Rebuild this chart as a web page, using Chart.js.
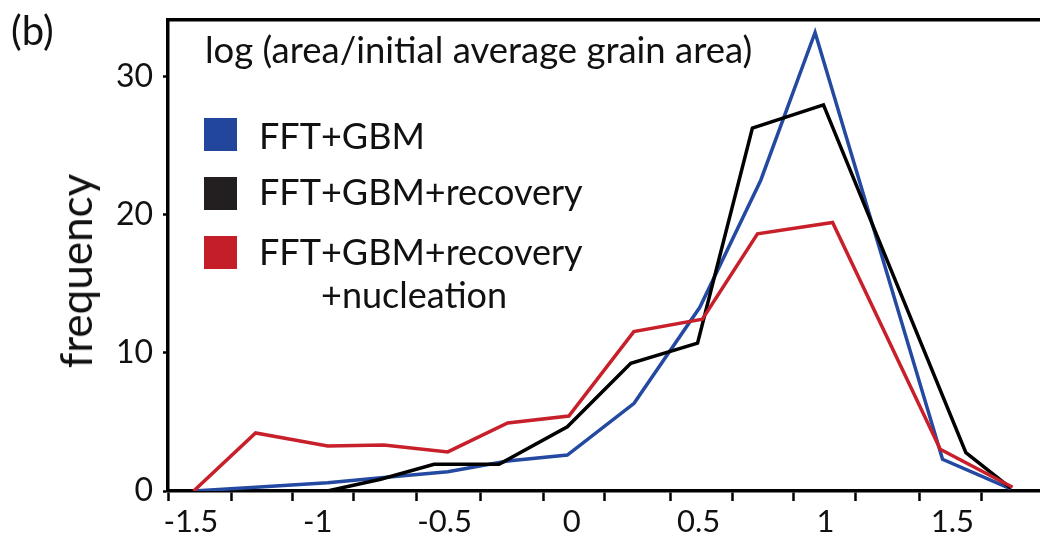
<!DOCTYPE html>
<html><head><meta charset="utf-8">
<script src="https://cdn.jsdelivr.net/npm/chart.js@4.4.1/dist/chart.umd.min.js"></script>
<style>
html,body{margin:0;padding:0;background:#fff;}
#wrap{position:relative;width:1040px;height:542px;overflow:hidden;font-family:Lato, sans-serif;color:#111;}
canvas{position:absolute;left:0;top:0;}
.t{position:absolute;white-space:nowrap;line-height:1;}
.sw{position:absolute;width:33px;height:33px;}
</style></head><body>
<div id="wrap">
<canvas id="c" width="1040" height="542"></canvas>
<div class="t" style="left:11px;top:10px;font-size:40px">(b)</div>
<div class="t" style="left:75px;top:271px;font-size:44px;transform:translate(-50%,-50%) rotate(-90deg)">frequency</div>
<div class="t" style="left:205px;top:31px;font-size:36.5px">log (area/initial average grain area)</div>
<div class="sw" style="left:204px;top:118px;background:#21469b"></div>
<div class="sw" style="left:204px;top:177px;background:#231f20"></div>
<div class="sw" style="left:204px;top:236px;background:#c41f28"></div>
<div class="t" style="left:259px;top:117px;font-size:36px">FFT+GBM</div>
<div class="t" style="left:259px;top:173px;font-size:36px">FFT+GBM+recovery</div>
<div class="t" style="left:259px;top:233px;font-size:36px">FFT+GBM+recovery</div>
<div class="t" style="left:321px;top:276px;font-size:36px">+nucleation</div>
</div>
<script>
const seriesNames = ['FFT+GBM', 'FFT+GBM+recovery', 'FFT+GBM+recovery +nucleation'];
const blueX = [-1.489, -1.245, -0.961, -0.74, -0.488, -0.252, -0.017, 0.246, 0.505, 0.745, 0.959, 1.461, 1.73];
const blueY = [0, 0.27, 0.6, 0.97, 1.4, 2.17, 2.6, 6.35, 13.3, 22.5, 33.2, 2.3, 0.15];
const blackX = [-0.962, -0.752, -0.542, -0.286, -0.017, 0.233, 0.496, 0.712, 0.992, 1.553, 1.73];
const blackY = [0, 0.85, 1.93, 1.93, 4.65, 9.25, 10.7, 26.28, 27.96, 2.78, 0.2];
const redX = [-1.489, -1.245, -0.961, -0.74, -0.488, -0.252, -0.011, 0.245, 0.515, 0.732, 1.028, 1.452, 1.737];
const redY = [0, 4.2, 3.26, 3.33, 2.83, 4.93, 5.43, 11.54, 12.44, 18.62, 19.44, 3.02, 0.27];
const xLabelTicks = [-1.5, -1, -0.5, 0, 0.5, 1, 1.5];
const xMinorTicks = [-1.59, -1.34, -1.10, -0.86, -0.61, -0.36, -0.11, 0.13, 0.39, 0.635, 0.875, 1.12, 1.37, 1.615];
const yTicks = [0, 10, 20, 30];

const X_MIN = -1.59, X_MAX = 1.845, Y_MIN = 0, Y_MAX = 34.1;
const pts = (xs, ys) => xs.map((x, i) => ({x: x, y: ys[i]}));
const isLabel = v => xLabelTicks.some(t => Math.abs(t - v) < 1e-6);
const allXTicks = xLabelTicks.concat(xMinorTicks).sort((a, b) => a - b);
const noPad = s => { s.paddingTop = 0; s.paddingBottom = 0; s.paddingLeft = 0; s.paddingRight = 0; };

new Chart(document.getElementById('c'), {
  type: 'line',
  data: {
    datasets: [
      {label: seriesNames[2], data: pts(redX, redY), borderColor: '#c8202a', borderWidth: 3.5, pointRadius: 0, tension: 0, order: 1},
      {label: seriesNames[1], data: pts(blackX, blackY), borderColor: '#000000', borderWidth: 3.5, pointRadius: 0, tension: 0, order: 2},
      {label: seriesNames[0], data: pts(blueX, blueY), borderColor: '#2449a0', borderWidth: 3.5, pointRadius: 0, tension: 0, order: 3}
    ]
  },
  options: {
    responsive: false,
    animation: false,
    devicePixelRatio: 1,
    layout: {padding: {top: 20, left: 0, right: 0, bottom: 0}},
    plugins: {legend: {display: false}, tooltip: {enabled: false}},
    scales: {
      x: {
        type: 'linear', position: 'bottom', min: X_MIN, max: X_MAX,
        afterBuildTicks: a => { a.ticks = allXTicks.map(v => ({value: v})); },
        afterFit: s => { s.height = 51; noPad(s); },
        border: {display: true, color: '#000', width: 3.5},
        grid: {display: true, drawOnChartArea: false, drawTicks: true, tickLength: 10, tickWidth: 2.5,
               tickColor: ctx => (ctx.tick && isLabel(ctx.tick.value)) ? 'rgba(0,0,0,0)' : '#000'},
        ticks: {autoSkip: false, maxRotation: 0, padding: 2, color: '#111',
                font: {family: 'Lato', size: 31},
                callback: v => isLabel(v) ? String(v) : ''}
      },
      xTop: {
        type: 'linear', position: 'top', min: X_MIN, max: X_MAX,
        afterFit: s => { s.height = 0; noPad(s); },
        border: {display: true, color: '#000', width: 3.5},
        grid: {display: true, drawOnChartArea: false, drawTicks: false},
        ticks: {display: false}
      },
      y: {
        type: 'linear', position: 'left', min: Y_MIN, max: Y_MAX,
        afterBuildTicks: a => { a.ticks = yTicks.map(v => ({value: v})); },
        afterFit: s => { s.width = 168; noPad(s); },
        border: {display: true, color: '#000', width: 3.5},
        grid: {display: true, drawOnChartArea: false, drawTicks: true, tickLength: 5, tickWidth: 2.5, tickColor: '#000'},
        ticks: {padding: 10, color: '#111', font: {family: 'Lato', size: 32}}
      }
    }
  }
});
</script>
</body></html>
